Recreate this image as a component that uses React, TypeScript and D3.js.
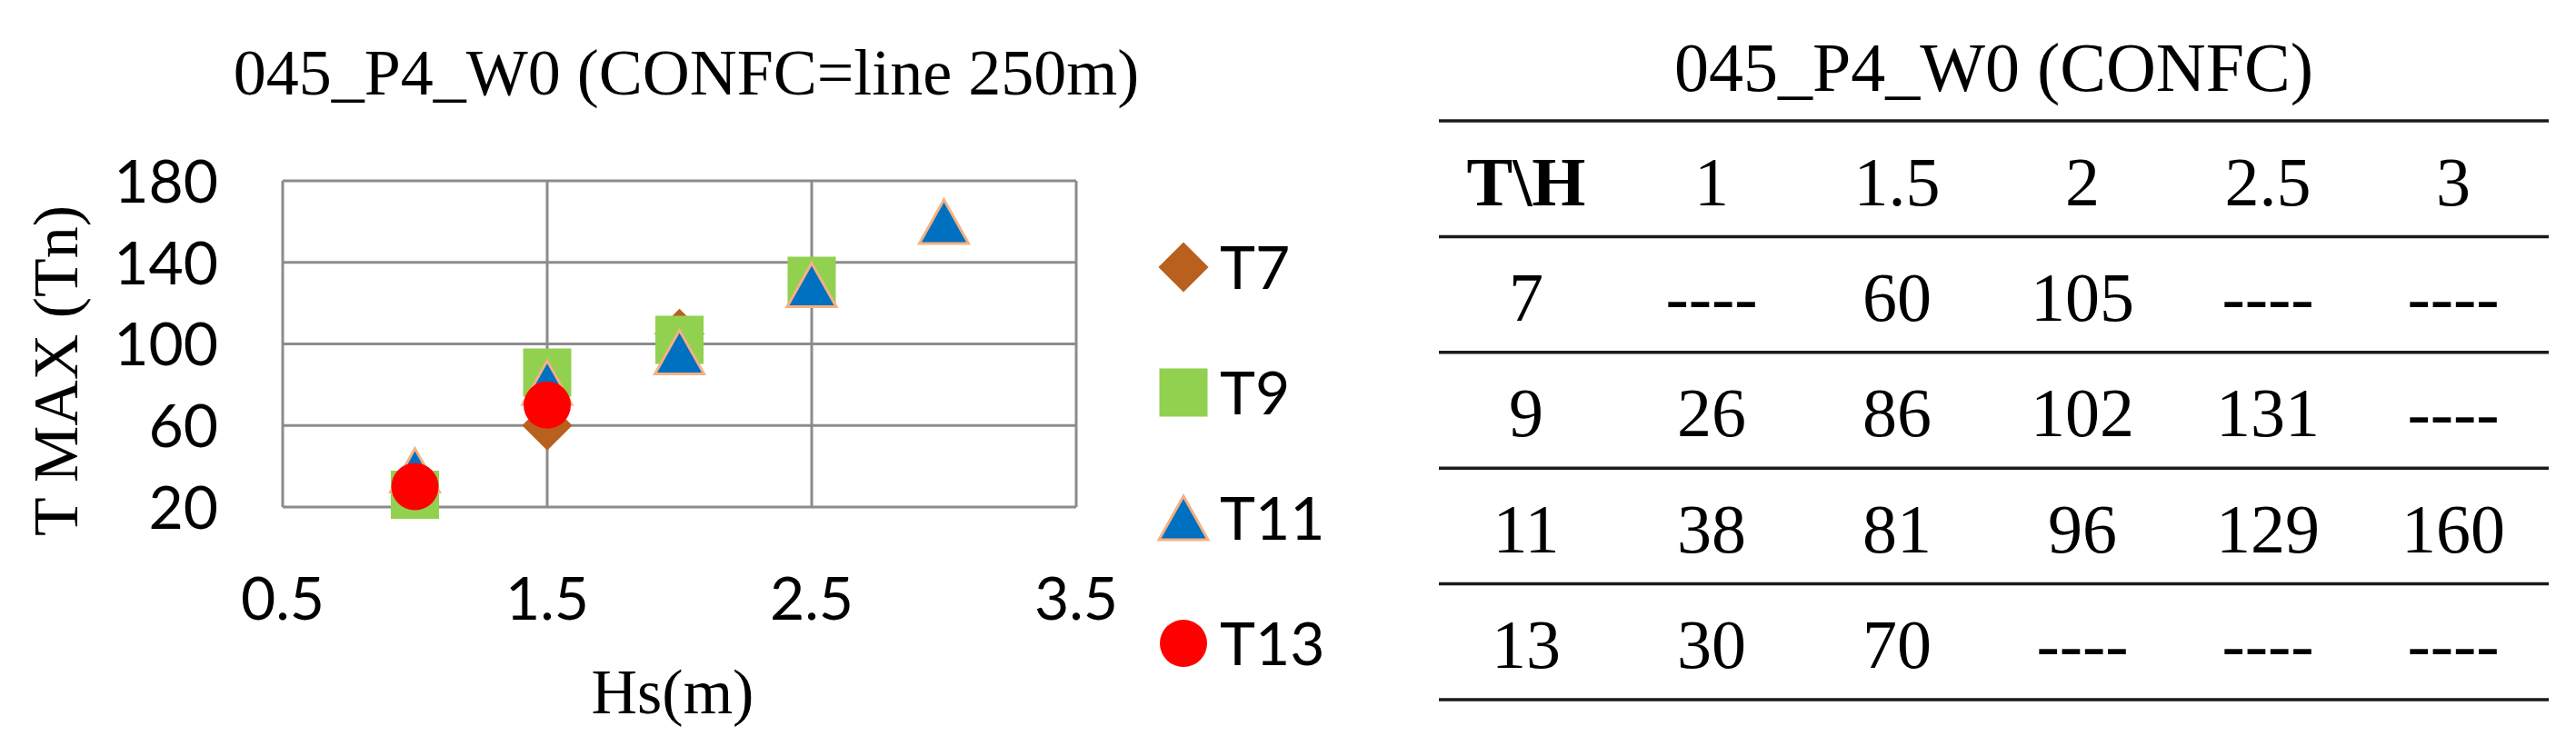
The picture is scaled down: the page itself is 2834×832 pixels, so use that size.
import React from "react";
import * as d3 from "d3";

// --- data ---
const hsValues = [1, 1.5, 2, 2.5, 3];
const seriesNames = ["T7", "T9", "T11", "T13"];
const periodLabels = ["7", "9", "11", "13"];
const t7Values = [null, 60, 105, null, null];
const t9Values = [26, 86, 102, 131, null];
const t11Values = [38, 81, 96, 129, 160];
const t13Values = [30, 70, null, null, null];
const xTicks = [0.5, 1.5, 2.5, 3.5];
const yTicks = [20, 60, 100, 140, 180];
const headerLabels = ["T\\H", "1", "1.5", "2", "2.5", "3"];

const allSeries = [t7Values, t9Values, t11Values, t13Values];

const SERIF = "'Liberation Serif', 'Times New Roman', serif";
const SANS = "Lato, 'Open Sans', sans-serif";

const markerStyle = {
  T7: { fill: "#B9601F", stroke: "none" },
  T9: { fill: "#92D050", stroke: "none" },
  T11: { fill: "#0070C0", stroke: "#F4B183" },
  T13: { fill: "#FF0000", stroke: "none" },
};

const markerPath = (name: string) => {
  if (name === "T7") {
    return d3.symbol(d3.symbolSquare, 39 * 39)();
  }
  if (name === "T9") {
    return d3.symbol(d3.symbolSquare, 53 * 53)();
  }
  if (name === "T11") {
    const w = 54, h = 48;
    return `M0,${-h / 2}L${w / 2},${h / 2}L${-w / 2},${h / 2}Z`;
  }
  return d3.symbol(d3.symbolCircle, Math.PI * 26 * 26)();
};

const Marker = ({ name, x, y }: { name: string; x: number; y: number }) => {
  const st = markerStyle[name];
  const rot = name === "T7" ? " rotate(45)" : "";
  return (
    <path
      d={markerPath(name) as string}
      transform={`translate(${x},${y})${rot}`}
      fill={st.fill}
      stroke={st.stroke}
      strokeWidth={3}
    />
  );
};

const ScatterChart = () => {
  const x = d3.scaleLinear().domain([0.5, 3.5]).range([311, 1184]);
  const y = d3.scaleLinear().domain([20, 180]).range([558, 199]);
  const [x0, x1] = x.range();
  const [y0, y1] = y.range();

  const points = seriesNames.map((name, si) => ({
    name,
    values: hsValues
      .map((h, i) => ({ h, v: allSeries[si][i] }))
      .filter((d) => d.v !== null),
  }));

  const legendY = d3.scalePoint().domain(seriesNames).range([294, 708]);

  return (
    <g>
      <text x={755} y={104} textAnchor="middle" fontFamily={SERIF} fontSize={72} fill="#000">
        045_P4_W0 (CONFC=line 250m)
      </text>

      {/* grid */}
      {yTicks.map((t) => (
        <line key={"gy" + t} x1={x0} x2={x1} y1={y(t)} y2={y(t)} stroke="#8c8c8c" strokeWidth={3} />
      ))}
      {xTicks.map((t) => (
        <line key={"gx" + t} x1={x(t)} x2={x(t)} y1={y0} y2={y1} stroke="#8c8c8c" strokeWidth={3} />
      ))}

      {/* tick labels */}
      {yTicks.map((t) => (
        <text key={"ly" + t} x={240} y={y(t)} dy="0.36em" textAnchor="end" fontFamily={SANS} fontSize={66} fill="#000">
          {t}
        </text>
      ))}
      {xTicks.map((t) => (
        <text key={"lx" + t} x={x(t)} y={682} textAnchor="middle" fontFamily={SANS} fontSize={66} fill="#000">
          {d3.format(".1f")(t)}
        </text>
      ))}

      {/* axis titles */}
      <text
        transform={`translate(85,408) rotate(-90)`}
        textAnchor="middle"
        fontFamily={SERIF}
        fontSize={70}
        fill="#000"
      >
        T MAX (Tn)
      </text>
      <text x={740} y={785} textAnchor="middle" fontFamily={SERIF} fontSize={70} fill="#000">
        Hs(m)
      </text>

      {/* points */}
      {points.map((s) =>
        s.values.map((d, i) => <Marker key={s.name + i} name={s.name} x={x(d.h)} y={y(d.v as number)} />)
      )}

      {/* legend */}
      {seriesNames.map((name) => (
        <g key={"leg" + name}>
          <Marker name={name} x={1302} y={legendY(name) as number} />
          <text x={1342} y={legendY(name) as number} dy="0.36em" fontFamily={SANS} fontSize={66} fill="#000">
            {name}
          </text>
        </g>
      ))}
    </g>
  );
};

const DataTable = () => {
  const left = 1583;
  const right = 2804;
  const col = d3.scalePoint().domain(headerLabels).range([1679, 2699]);
  const rowKeys = ["header", ...periodLabels];
  const row = d3.scaleBand().domain(rowKeys).range([133, 770]);
  const lines = [...rowKeys.map((k) => row(k) as number), 770];

  const cell = (v: number | null) => (v === null ? "----" : String(v));

  return (
    <g>
      <text x={(left + right) / 2} y={100} textAnchor="middle" fontFamily={SERIF} fontSize={76} fill="#000">
        045_P4_W0 (CONFC)
      </text>
      {lines.map((ly, i) => (
        <line key={"tl" + i} x1={left} x2={right} y1={ly} y2={ly} stroke="#1a1a1a" strokeWidth={3.5} />
      ))}
      {headerLabels.map((h, i) => (
        <text
          key={"h" + i}
          x={col(h)}
          y={(row("header") as number) + row.bandwidth() / 2}
          dy="0.38em"
          textAnchor="middle"
          fontFamily={SERIF}
          fontSize={76}
          fontWeight={i === 0 ? "bold" : "normal"}
          fill="#000"
        >
          {h}
        </text>
      ))}
      {periodLabels.map((p, ri) => {
        const cy = (row(p) as number) + row.bandwidth() / 2;
        return (
          <g key={"r" + p}>
            <text x={col(headerLabels[0])} y={cy} dy="0.38em" textAnchor="middle" fontFamily={SERIF} fontSize={76} fill="#000">
              {p}
            </text>
            {allSeries[ri].map((v, ci) => (
              <text
                key={"c" + ci}
                x={col(headerLabels[ci + 1])}
                y={cy}
                dy="0.38em"
                textAnchor="middle"
                fontFamily={SERIF}
                fontSize={76}
                fill="#000"
              >
                {cell(v)}
              </text>
            ))}
          </g>
        );
      })}
    </g>
  );
};

export default function App() {
  return (
    <>
      <style>{`body{margin:0;background:#fff}`}</style>
      <svg width={2834} height={832} style={{ display: "block", background: "#fff" }}>
        <ScatterChart />
        <DataTable />
      </svg>
    </>
  );
}
